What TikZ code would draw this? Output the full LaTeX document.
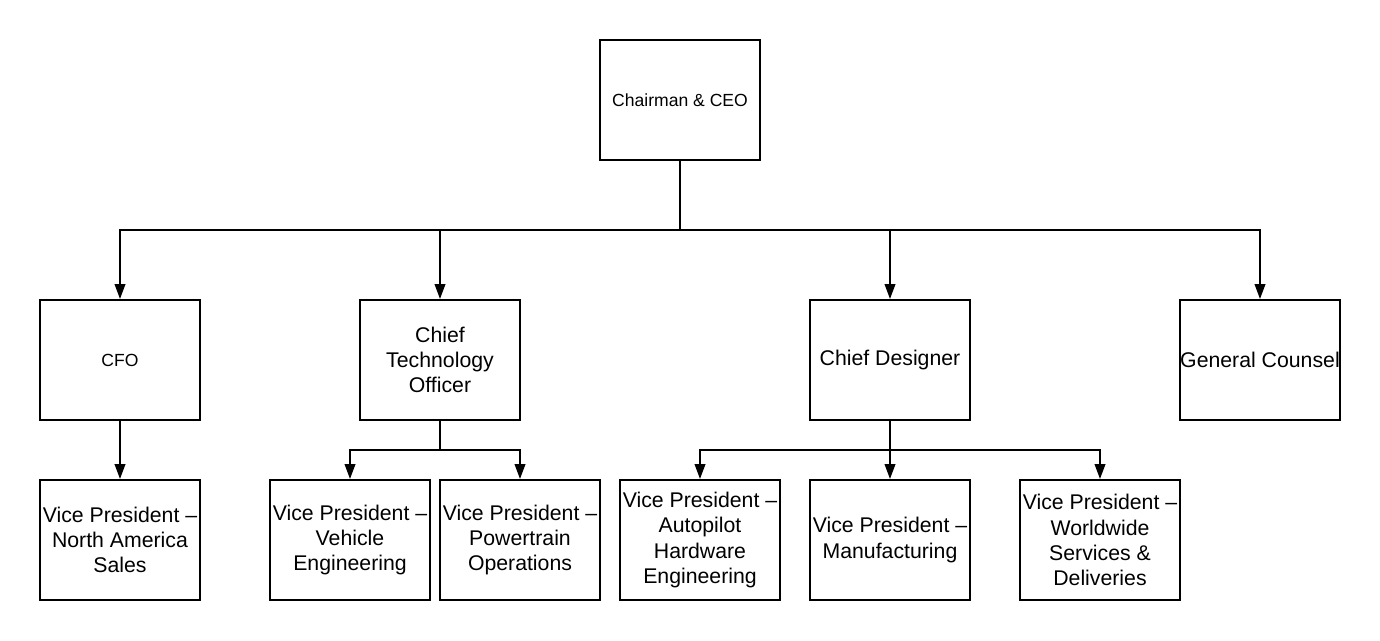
\documentclass[tikz,border=0pt]{standalone}
\usepackage{fontspec}
\setmainfont{Liberation Sans}
\usetikzlibrary{arrows.meta}

\begin{document}
\begin{tikzpicture}[x=0.02cm, y=-0.02cm,
    role/.style={draw, line width=1.13pt, minimum width=3.2cm, minimum height=2.4cm,
        inner sep=0pt, align=center, font=\fontsize{12.1}{14.3}\selectfont},
    smallrole/.style={role, font=\fontsize{10}{12}\selectfont},
    link/.style={line width=1.13pt},
    linkto/.style={link, -{Triangle[length=8.5pt, width=6pt]}}]
    \useasboundingbox (0,0) rectangle (1380,640);

    % top
    \node[smallrole] (ceo) at (680,100) {Chairman \& CEO};

    % second row
    \node[smallrole] (cfo) at (120,360) {CFO};
    \node[role] (cto) at (440,360) {Chief\\Technology\\Officer};
    \node[role] (designer) at (890,360) {Chief Designer};
    \node[role] (counsel) at (1260,360) {General Counsel};

    % third row
    \node[role] (sales) at (120,540) {Vice President --\\North America\\Sales};
    \node[role] (vehicle) at (350,540) {Vice President --\\Vehicle\\Engineering};
    \node[role] (powertrain) at (520,540) {Vice President --\\Powertrain\\Operations};
    \node[role] (autopilot) at (700,540) {Vice President --\\Autopilot\\Hardware\\Engineering};
    \node[role] (manufacturing) at (890,540) {Vice President --\\Manufacturing};
    \node[role] (services) at (1100,540) {Vice President --\\Worldwide\\Services \&\\Deliveries};

    % connectors
    \coordinate (ceosplit) at (680,230);
    \coordinate (ctosplit) at (440,450);
    \coordinate (designsplit) at (890,450);

    \draw[link] (ceo.south) -- (ceosplit);
    \foreach \n in {cfo, cto, designer, counsel}
        \draw[linkto] (ceosplit) -| (\n.north);

    \draw[linkto] (cfo.south) -- (sales.north);

    \draw[link] (cto.south) -- (ctosplit);
    \foreach \n in {vehicle, powertrain}
        \draw[linkto] (ctosplit) -| (\n.north);

    \draw[link] (designer.south) -- (designsplit);
    \foreach \n in {autopilot, services}
        \draw[linkto] (designsplit) -| (\n.north);
    \draw[linkto] (designsplit) -- (manufacturing.north);
\end{tikzpicture}
\end{document}
